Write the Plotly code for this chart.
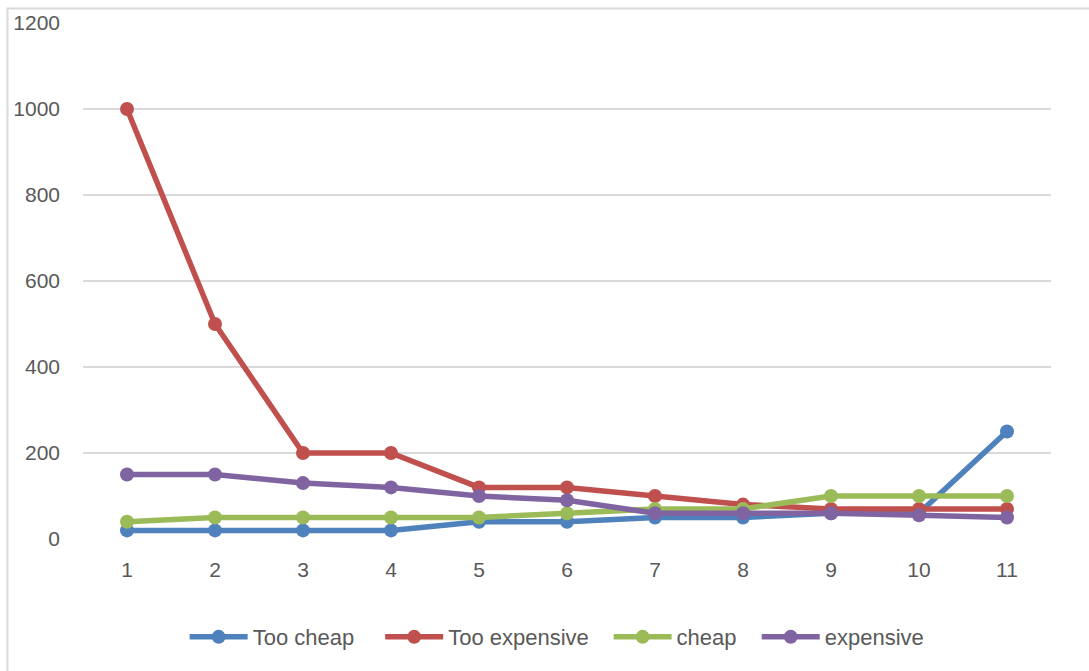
import plotly.graph_objects as go

# Price points (categories) and responses per price perception
categories = ["1", "2", "3", "4", "5", "6", "7", "8", "9", "10", "11"]
too_cheap = [20, 20, 20, 20, 40, 40, 50, 50, 60, 60, 250]
too_expensive = [1000, 500, 200, 200, 120, 120, 100, 80, 70, 70, 70]
cheap = [40, 50, 50, 50, 50, 60, 70, 70, 100, 100, 100]
expensive = [150, 150, 130, 120, 100, 90, 60, 60, 60, 55, 50]
y_ticks = [0, 200, 400, 600, 800, 1000, 1200]

series = [
    ("Too cheap", too_cheap, "#4F81BD"),
    ("Too expensive", too_expensive, "#C0504D"),
    ("cheap", cheap, "#9BBB59"),
    ("expensive", expensive, "#8064A2"),
]

# each legend entry gets its own legend box so the spacing can be set freely
legend_ids = ["legend", "legend2", "legend3", "legend4"]
legend_x = [0.105, 0.307, 0.543, 0.696]

fig = go.Figure()
for (name, values, color), lid in zip(series, legend_ids):
    fig.add_trace(go.Scatter(
        x=categories, y=values, name=name, mode="lines+markers",
        line=dict(color=color, width=5.5),
        marker=dict(color=color, size=14),
        cliponaxis=False, legend=lid,
    ))

font_color = "#595959"
legend_style = dict(orientation="h", xanchor="left", y=-0.19, yanchor="middle",
                    font=dict(size=22, color=font_color), itemwidth=58,
                    bgcolor="rgba(0,0,0,0)")
legends = {lid: dict(legend_style, x=lx) for lid, lx in zip(legend_ids, legend_x)}

fig.update_layout(
    width=1089, height=671,
    margin=dict(l=83, r=38, t=23, b=132),
    paper_bgcolor="white", plot_bgcolor="white",
    font=dict(family="Liberation Sans, Arial, sans-serif", size=21, color=font_color),
    showlegend=True,
    xaxis=dict(type="category", range=[-0.5, 10.5], showgrid=False, zeroline=False,
               showline=False, ticks="", ticklabelstandoff=16,
               tickfont=dict(size=21, color=font_color)),
    yaxis=dict(range=[0, 1200], tickvals=y_ticks, showgrid=True, gridcolor="#D9D9D9",
               gridwidth=1.5, zeroline=False, showline=False, ticks="",
               ticklabelstandoff=22, tickfont=dict(size=21, color=font_color)),
    shapes=[dict(type="rect", xref="paper", yref="paper",
                 x0=-0.078, x1=1.2, y0=-0.5, y1=1.028,
                 line=dict(color="#D9D9D9", width=2), fillcolor="rgba(0,0,0,0)",
                 layer="below")],
    **legends,
)

fig.write_html("out.html")
